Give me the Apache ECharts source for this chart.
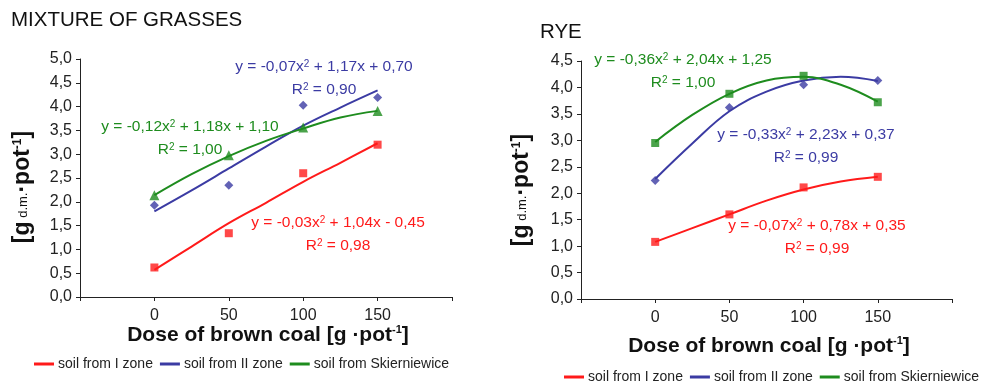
<!DOCTYPE html>
<html>
<head>
<meta charset="utf-8">
<script src="https://cdn.jsdelivr.net/npm/echarts@6/dist/echarts.min.js"></script>
<style>
  html, body { margin: 0; padding: 0; background: #fff; }
  #chart { width: 987px; height: 383px; }
</style>
</head>
<body>
<div id="chart"></div>
<script>
// doses of brown coal (measured points) and doses where the fitted curve was read
const doses = [0, 50, 100, 150];
const fitDoses = [0, 25, 50, 75, 100, 125, 150];
const seriesNames = ['soil from I zone', 'soil from II zone', 'soil from Skierniewice'];

// MIXTURE OF GRASSES
const mixZone1 = [0.62, 1.34, 2.60, 3.20];
const mixZone2 = [1.93, 2.35, 4.03, 4.19];
const mixSkier = [2.14, 2.98, 3.56, 3.91];
const mixZone1Fit = [0.57, 1.06, 1.55, 1.98, 2.42, 2.82, 3.23];
const mixZone2Fit = [1.80, 2.24, 2.70, 3.16, 3.60, 3.98, 4.34];
const mixSkierFit = [2.14, 2.58, 2.96, 3.28, 3.54, 3.77, 3.91];

// RYE
const ryeZone1 = [1.08, 1.60, 2.11, 2.31];
const ryeZone2 = [2.24, 3.62, 4.05, 4.13];
const ryeSkier = [2.95, 3.88, 4.22, 3.72];
const ryeZone1Fit = [1.08, 1.34, 1.60, 1.86, 2.07, 2.22, 2.31];
const ryeZone2Fit = [2.27, 2.94, 3.55, 3.92, 4.13, 4.20, 4.12];
const ryeSkierFit = [2.97, 3.48, 3.88, 4.13, 4.20, 4.05, 3.73];

const RED = '#ff1a1a';
const BLUE = '#3b3ba3';
const GREEN = '#1e8c1e';
const FONT = '"Liberation Sans", Arial, sans-serif';

const chart = echarts.init(document.getElementById('chart'));

function pairs(xs, ys) {
    return xs.map((x, i) => [x, ys[i]]);
}

function xAxisFor(gridIndex) {
    return {
        gridIndex: gridIndex,
        type: 'value',
        min: -50,
        max: 200,
        interval: 50,
        axisLine: { onZero: false, lineStyle: { color: '#222', width: 1 } },
        axisTick: { show: true, length: 4, lineStyle: { color: '#222' } },
        splitLine: { show: false },
        axisLabel: {
            margin: 11,
            fontSize: 16,
            color: '#222',
            fontFamily: FONT,
            formatter: v => (v < 0 || v > 150) ? '' : String(v)
        }
    };
}

function yAxisFor(gridIndex, max) {
    return {
        gridIndex: gridIndex,
        type: 'value',
        min: 0,
        max: max,
        interval: 0.5,
        axisLine: { show: true, onZero: false, lineStyle: { color: '#222', width: 1 } },
        axisTick: { show: true, length: 4, lineStyle: { color: '#222' } },
        splitLine: { show: false },
        axisLabel: {
            margin: 8,
            fontSize: 16,
            color: '#222',
            fontFamily: FONT,
            formatter: v => v.toFixed(1).replace('.', ',')
        }
    };
}

function fitLine(name, idx, ys, color) {
    return {
        name: name,
        type: 'line',
        xAxisIndex: idx,
        yAxisIndex: idx,
        data: pairs(fitDoses, ys),
        smooth: 0.4,
        showSymbol: false,
        silent: true,
        lineStyle: { color: color, width: 2 },
        itemStyle: { color: color },
        z: 2
    };
}

function points(name, idx, ys, color, symbol, size) {
    return {
        name: name,
        type: 'scatter',
        xAxisIndex: idx,
        yAxisIndex: idx,
        data: pairs(doses, ys),
        symbol: symbol,
        symbolSize: size,
        itemStyle: { color: color },
        z: 3
    };
}

// equation with R^2 underneath, as rich text
function equation(x, y, a, b, c, r2, color) {
    const base = { fill: color, fontSize: 15.5, fontFamily: FONT };
    return [
        {
            type: 'text', x: x, y: y,
            style: {
                text: '{t|y = ' + a + 'x}{s|2}{t| + ' + b + 'x ' + c + '}',
                align: 'center', verticalAlign: 'middle',
                rich: {
                    t: Object.assign({}, base),
                    s: Object.assign({}, base, { fontSize: 10, verticalAlign: 'top', lineHeight: 14 })
                }
            }
        },
        {
            type: 'text', x: x, y: y + 23,
            style: {
                text: '{t|R}{s|2}{t| = ' + r2 + '}',
                align: 'center', verticalAlign: 'middle',
                rich: {
                    t: Object.assign({}, base),
                    s: Object.assign({}, base, { fontSize: 10, verticalAlign: 'top', lineHeight: 14 })
                }
            }
        }
    ];
}

const xRich = {
    b: { fontSize: 21, fontWeight: 'bold', fill: '#111', fontFamily: FONT },
    s: { fontSize: 11, fontWeight: 'bold', fill: '#111', fontFamily: FONT, verticalAlign: 'top', lineHeight: 16 }
};
const yRich = {
    b: { fontSize: 23, fontWeight: 'bold', fill: '#111', fontFamily: FONT },
    n: { fontSize: 13, fill: '#111', fontFamily: FONT },
    s: { fontSize: 12, fontWeight: 'bold', fill: '#111', fontFamily: FONT, verticalAlign: 'top', lineHeight: 17 }
};

function xName(x, y) {
    return {
        type: 'text', x: x, y: y,
        style: {
            text: '{b|Dose of brown coal [g ·pot}{s|-1}{b|]}',
            align: 'center', verticalAlign: 'middle',
            rich: xRich
        }
    };
}

function yName(x, y) {
    return {
        type: 'text', x: x, y: y, rotation: Math.PI / 2,
        style: {
            text: '{b|[g}{n| d.m.}{b|·pot}{s|-1}{b|]}',
            align: 'center', verticalAlign: 'middle',
            rich: yRich
        }
    };
}

const legendBase = {
    data: seriesNames,
    orient: 'horizontal',
    icon: 'rect',
    itemWidth: 20,
    itemHeight: 3,
    itemGap: 7,
    selectedMode: false,
    textStyle: { fontSize: 14, color: '#222', fontFamily: FONT, padding: [0, 0, 0, -1] }
};

chart.setOption({
    animation: false,
    backgroundColor: '#fff',
    grid: [
        { left: 80, top: 59, width: 372, height: 238 },
        { left: 581, top: 61, width: 371, height: 238 }
    ],
    xAxis: [xAxisFor(0), xAxisFor(1)],
    yAxis: [yAxisFor(0, 5), yAxisFor(1, 4.5)],
    legend: [
        Object.assign({}, legendBase, { left: 29, top: 352 }),
        Object.assign({}, legendBase, { left: 559, top: 365 })
    ],
    series: [
        fitLine(seriesNames[0], 0, mixZone1Fit, RED),
        fitLine(seriesNames[1], 0, mixZone2Fit, BLUE),
        fitLine(seriesNames[2], 0, mixSkierFit, GREEN),
        points('I zone (measured)', 0, mixZone1, RED, 'rect', 8),
        points('II zone (measured)', 0, mixZone2, BLUE, 'diamond', 9),
        points('Skierniewice (measured)', 0, mixSkier, GREEN, 'triangle', 10),

        fitLine(seriesNames[0], 1, ryeZone1Fit, RED),
        fitLine(seriesNames[1], 1, ryeZone2Fit, BLUE),
        fitLine(seriesNames[2], 1, ryeSkierFit, GREEN),
        points('I zone (measured) ', 1, ryeZone1, RED, 'rect', 8),
        points('II zone (measured) ', 1, ryeZone2, BLUE, 'diamond', 9),
        points('Skierniewice (measured) ', 1, ryeSkier, GREEN, 'rect', 8)
    ],
    graphic: [
        { type: 'text', x: 11, y: 20, style: { text: 'MIXTURE OF GRASSES', fontSize: 20.5, fill: '#111', fontFamily: FONT, verticalAlign: 'middle' } },
        { type: 'text', x: 540, y: 32, style: { text: 'RYE', fontSize: 20.5, fill: '#111', fontFamily: FONT, verticalAlign: 'middle' } },
        xName(268, 335),
        xName(769, 346),
        yName(23, 187),
        yName(522, 190)
    ]
        .concat(equation(324, 67, '-0,07', '1,17', '+ 0,70', '0,90', BLUE))
        .concat(equation(190, 127, '-0,12', '1,18', '+ 1,10', '1,00', GREEN))
        .concat(equation(338, 223, '-0,03', '1,04', '- 0,45', '0,98', RED))
        .concat(equation(683, 60, '-0,36', '2,04', '+ 1,25', '1,00', GREEN))
        .concat(equation(806, 135, '-0,33', '2,23', '+ 0,37', '0,99', BLUE))
        .concat(equation(817, 226, '-0,07', '0,78', '+ 0,35', '0,99', RED))
});
</script>
</body>
</html>
